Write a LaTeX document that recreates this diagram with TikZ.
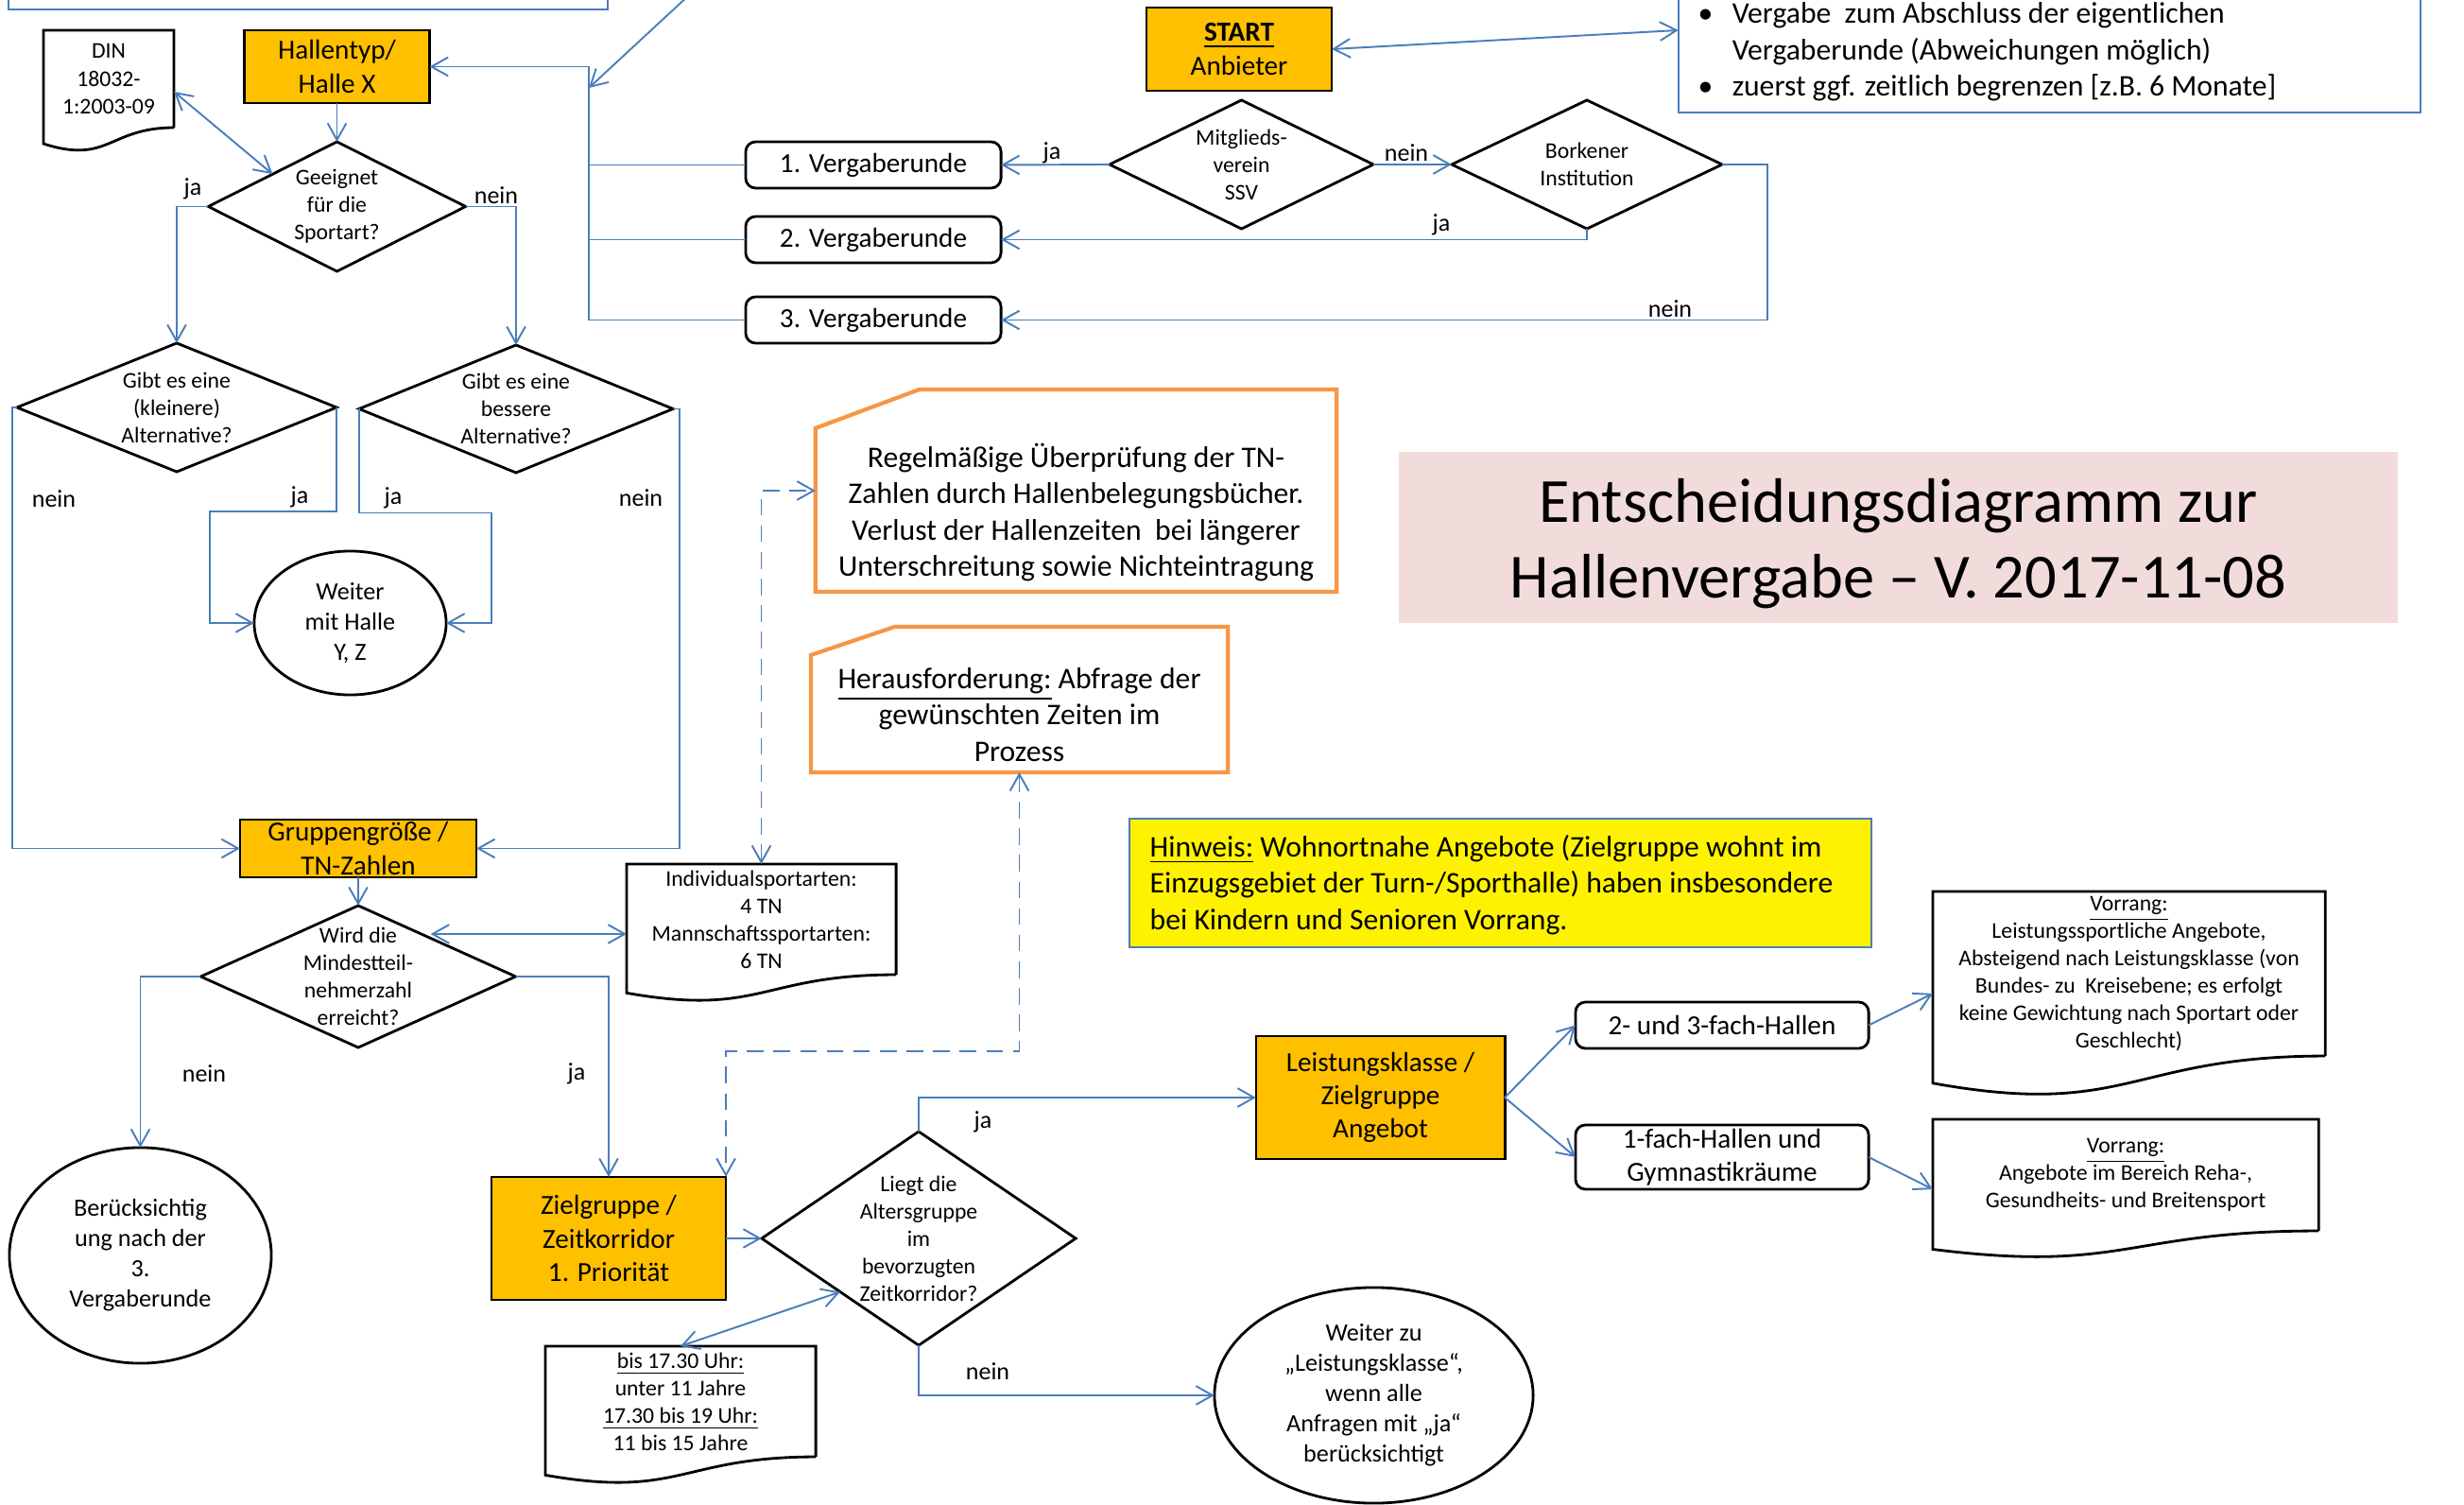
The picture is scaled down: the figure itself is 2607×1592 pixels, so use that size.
\documentclass[tikz,border=0pt]{standalone}
\usepackage{fontspec}
\setmainfont{Carlito}
\usetikzlibrary{arrows.meta,calc,shapes.geometric}

\definecolor{linkblue}{RGB}{74,126,187}
\definecolor{boxorange}{RGB}{255,192,0}
\definecolor{noteorange}{RGB}{247,150,70}
\definecolor{titlerose}{RGB}{242,220,219}

\newcommand*{\tinytxt}{\fontsize{6.75pt}{8.25pt}\selectfont}
\newcommand*{\lbltxt}{\fontsize{7.4pt}{9pt}\selectfont}
\newcommand*{\ovaltxt}{\fontsize{7.45pt}{9.1pt}\selectfont}
\newcommand*{\boxtxt}{\fontsize{8.3pt}{10pt}\selectfont}
\newcommand*{\bigtxt}{\fontsize{9pt}{10.9pt}\selectfont}
\newcommand*{\titletxt}{\fontsize{18.9pt}{22.6pt}\selectfont}

\begin{document}
\begin{tikzpicture}[x=0.01cm, y=-0.01cm,
	linkline/.style={draw=linkblue, line width=0.55pt},
	conn/.style={linkline, -{Straight Barb[length=5pt,width=5.6pt]}},
	biconn/.style={linkline, {Straight Barb[length=5pt,width=5.6pt]}-{Straight Barb[length=5pt,width=5.6pt]}},
	dashconn/.style={biconn, dash pattern=on 5pt off 3pt},
	boxline/.style={draw=black, line width=0.8pt},
	frame/.style={rectangle, inner sep=0pt, outer sep=0pt, align=center},
	fillbox/.style={frame, boxline, fill=boxorange, font=\boxtxt},
	roundbox/.style={frame, boxline, rounded corners=3pt, font=\boxtxt},
	oval/.style={ellipse, boxline, inner sep=0pt, outer sep=0pt, align=center, font=\ovaltxt},
	lbl/.style={inner sep=0pt, font=\lbltxt}]

	\useasboundingbox (0,0) rectangle (2607,1592);
	\clip (0,0) rectangle (2607,1592);

	\newcommand*{\diamframe}[1]{%
	\draw[boxline] (#1.north) -- (#1.east) -- (#1.south) -- (#1.west) -- cycle;
	}
	\newcommand*{\docframe}[1]{%
	\draw[boxline] (#1.south east) -- (#1.north east) -- (#1.north west)
		-- ($(#1.south west)!-0.165!(#1.north west)$)
		.. controls ($(#1.south)!-0.381!(#1.north)$) and (#1.south) .. (#1.south east);
	}
	\newcommand*{\snipframe}[3]{%
	\draw[draw=noteorange, line width=1.2pt] ($(#1.north west)+(#2,0)$) -- (#1.north east)
		-- (#1.south east) -- (#1.south west) -- ($(#1.north west)+(0,#3)$) -- cycle;
	}

	% top row
	\node[frame, draw=linkblue, line width=0.6pt, minimum width=6.34cm, minimum height=0.5cm] (topnote) at (326,-15) {};
	\node[fillbox, minimum width=1.96cm, minimum height=0.77cm] (hallentyp) at (356.5,70.5) {Hallentyp/\\Halle X};
	\node[frame, minimum width=1.38cm, minimum height=1.03cm, font=\tinytxt] (din) at (115,83.5) {DIN\\18032-\\1:2003-09};
	\docframe{din}
	\node[fillbox, minimum width=1.96cm, minimum height=0.88cm] (start) at (1311,52) {\textbf{\underline{START}}\\Anbieter};
	\node[frame, draw=linkblue, line width=0.6pt, minimum width=7.85cm, minimum height=1.49cm] (bulletbox) at (2168.5,44.5) {};
	\node[anchor=base west, inner sep=0pt, font=\bigtxt] (bullettext) at (1796,25) {%
		\begin{tabular}[t]{@{}p{0.36cm}@{}l@{}}
		\textbullet & Vergabe\ \ zum Abschluss der eigentlichen\\
		 & Vergaberunde (Abweichungen möglich)\\
		\textbullet & zuerst ggf. zeitlich begrenzen [z.B. 6 Monate]
		\end{tabular}};

	% Vergaberunden
	\foreach \i/\y in {1/174.5, 2/253.5, 3/338.5}
		\node[roundbox, minimum width=2.7cm, minimum height=0.49cm] (vergabe\i) at (924,\y) {\i. Vergaberunde};
	\node[frame, minimum width=2.79cm, minimum height=1.36cm, font=\tinytxt] (mitglied) at (1313.5,174) {Mitglieds-\\verein\\SSV};
	\diamframe{mitglied}
	\node[frame, minimum width=2.86cm, minimum height=1.36cm, font=\tinytxt] (borkener) at (1679,174) {Borkener\\Institution};
	\diamframe{borkener}

	\coordinate (bus) at (623,70.5);
	\coordinate (busin) at (623,93);
	\coordinate (offtop) at (757,-31);
	\draw[linkline] (vergabe1.west) -- (vergabe1.west -| bus);
	\draw[linkline] (vergabe2.west) -- (vergabe2.west -| bus);
	\draw[conn] (vergabe3.west) -| (bus) -- (hallentyp.east);
	\draw[conn] (offtop) -- (busin);
	\draw[biconn] (start.east) -- ($(bulletbox.west)+(0,-12.5)$);

	\draw[conn] (mitglied.west) -- (vergabe1.east);
	\draw[conn] (mitglied.east) -- (borkener.west);
	\draw[conn] (borkener.south) |- (vergabe2.east);
	\draw[conn] (borkener.east) -- (1870,174) |- (vergabe3.east);
	\node[lbl] (l1) at (1113,162) {ja};
	\node[lbl] (l2) at (1488,162) {nein};
	\node[lbl] (l3) at (1525,238) {ja};
	\node[lbl] (l4) at (1767,327) {nein};

	% Halle
	\node[frame, minimum width=2.72cm, minimum height=1.37cm, font=\tinytxt] (geeignet) at (356.5,218.5) {Geeignet\\für die\\Sportart?};
	\diamframe{geeignet}
	\node[frame, minimum width=3.38cm, minimum height=1.36cm, font=\tinytxt] (kleiner) at (187,431) {Gibt es eine\\(kleinere)\\Alternative?};
	\diamframe{kleiner}
	\node[frame, minimum width=3.32cm, minimum height=1.35cm, font=\tinytxt] (besser) at (546,432.5) {Gibt es eine\\bessere\\Alternative?};
	\diamframe{besser}
	\node[oval, minimum width=2.03cm, minimum height=1.52cm] (weiterhalle) at (370.5,659) {Weiter\\mit Halle\\Y, Z};
	\node[fillbox, minimum width=2.5cm, minimum height=0.61cm] (gruppe) at (379,897.5) {Gruppengröße /\\TN-Zahlen};

	\draw[conn] (hallentyp.south) -- (geeignet.north);
	\draw[biconn] ($(din.east)+(0,13.5)$) -- ($(geeignet.west)!0.5!(geeignet.north)$);
	\draw[conn] (geeignet.west) -| (kleiner.north);
	\draw[conn] (geeignet.east) -| (besser.north);
	\draw[conn] (kleiner.east) -- ++(0,110) -- ++(-134,0) |- (weiterhalle.west);
	\draw[conn] (besser.west) -- ++(0,110) -- ++(140,0) |- (weiterhalle.east);
	\draw[conn] (kleiner.west) -- ++(-5,0) |- (gruppe.west);
	\draw[conn] (besser.east) -- ++(7,0) |- (gruppe.east);
	\node[lbl] (l5) at (204,200) {ja};
	\node[lbl] (l6) at (525,207) {nein};
	\node[lbl] (l7) at (57,528) {nein};
	\node[lbl] (l8) at (317,526) {ja};
	\node[lbl] (l9) at (416,527) {ja};
	\node[lbl] (l10) at (678,527) {nein};

	% Gruppe und Zielgruppe
	\node[frame, minimum width=3.33cm, minimum height=1.5cm, font=\tinytxt] (wirddie) at (379,1033) {Wird die\\Mindestteil-\\nehmerzahl\\erreicht?};
	\diamframe{wirddie}
	\node[frame, minimum width=2.85cm, minimum height=1.17cm, font=\tinytxt] (individual) at (805.5,972.5) {Individualsportarten:\\4 TN\\Mannschaftssportarten:\\6 TN};
	\docframe{individual}
	\node[oval, minimum width=2.77cm, minimum height=2.28cm] (berueck) at (148.5,1328) {Berücksichtig\\ung nach der\\3.\\Vergaberunde};
	\node[fillbox, minimum width=2.48cm, minimum height=1.3cm] (zielgruppe) at (644,1310) {Zielgruppe /\\Zeitkorridor\\1. Priorität};
	\node[frame, minimum width=3.32cm, minimum height=2.26cm, font=\tinytxt] (liegt) at (972,1310) {Liegt die\\Altersgruppe\\im\\bevorzugten\\Zeitkorridor?};
	\diamframe{liegt}
	\node[frame, minimum width=2.86cm, minimum height=1.17cm, font=\tinytxt] (zeitdoc) at (720,1482.5) {\underline{bis 17.30 Uhr:}\\unter 11 Jahre\\\underline{17.30 bis 19 Uhr:}\\11 bis 15 Jahre};
	\docframe{zeitdoc}
	\node[oval, minimum width=3.37cm, minimum height=2.28cm] (weiterzu) at (1453.5,1476) {Weiter zu\\„Leistungsklasse“,\\wenn alle\\Anfragen mit „ja“\\berücksichtigt};

	\coordinate (wdtip) at ($(wirddie.north)!0.4!(wirddie.east)+(10,0)$);
	\draw[conn] (gruppe.south) -- (wirddie.north);
	\draw[biconn] (wdtip) -- (wdtip -| individual.west);
	\draw[conn] (wirddie.west) -| (berueck.north);
	\draw[conn] (wirddie.east) -| (zielgruppe.north);
	\draw[conn] (zielgruppe.east) -- (liegt.west);
	\draw[biconn] (zeitdoc.north) -- ($(liegt.west)!0.5!(liegt.south)$);
	\node[lbl] (l11) at (216,1136) {nein};
	\node[lbl] (l12) at (610,1136) {ja};

	% Hinweise
	\node[frame, minimum width=5.51cm, minimum height=2.14cm] (regel) at (1138.5,519) {};
	\snipframe{regel}{110}{41}
	\node[inner sep=0pt, align=center, font=\bigtxt] (regeltext) at (1138.5,542) {Regelmäßige Überprüfung der TN-\\Zahlen durch Hallenbelegungsbücher.\\Verlust der Hallenzeiten\ \ bei längerer\\Unterschreitung sowie Nichteintragung};
	\node[frame, minimum width=4.41cm, minimum height=1.54cm] (heraus) at (1078.5,740) {};
	\snipframe{heraus}{89}{30}
	\node[inner sep=0pt, align=center, font=\bigtxt] (heraustext) at (1078.5,756) {\underline{Herausforderung:} Abfrage der\\gewünschten Zeiten im\\Prozess};
	\draw[dashconn] (individual.north) |- (regel.west);
	\draw[dashconn] (heraus.south) -- ++(0,295) -| (zielgruppe.north east);

	\node[frame, fill=titlerose, minimum width=10.57cm, minimum height=1.81cm] (title) at (2008.5,568.5) {};
	\node[inner sep=0pt, align=center, font=\titletxt] (titletext) at (2008.5,575) {Entscheidungsdiagramm zur\\Hallenvergabe – V. 2017-11-08};
	\node[frame, draw=linkblue, line width=0.6pt, fill=yellow, minimum width=7.85cm, minimum height=1.36cm] (hinweis) at (1587.5,934) {};
	\node[inner sep=0pt, anchor=west, align=left, font=\bigtxt] (hinweistext) at (1216,936) {\underline{Hinweis:} Wohnortnahe Angebote (Zielgruppe wohnt im\\Einzugsgebiet der Turn-/Sporthalle) haben insbesondere\\bei Kindern und Senioren Vorrang.};

	% Leistungsklasse
	\node[fillbox, minimum width=2.63cm, minimum height=1.3cm] (leistung) at (1460.5,1161) {Leistungsklasse /\\Zielgruppe\\Angebot};
	\node[roundbox, minimum width=3.1cm, minimum height=0.49cm] (hallen23) at (1822,1084.5) {2- und 3-fach-Hallen};
	\node[roundbox, minimum width=3.1cm, minimum height=0.68cm] (hallen1) at (1822,1224) {1-fach-Hallen und\\Gymnastikräume};
	\node[frame, minimum width=4.15cm, minimum height=1.74cm, font=\tinytxt] (vorrang1) at (2252.5,1030) {\underline{Vorrang:}\\Leistungssportliche Angebote,\\Absteigend nach Leistungsklasse (von\\Bundes- zu\ \ Kreisebene; es erfolgt\\keine Gewichtung nach Sportart oder\\Geschlecht)};
	\docframe{vorrang1}
	\node[frame, minimum width=4.08cm, minimum height=1.18cm, font=\tinytxt] (vorrang2) at (2249,1243) {\underline{Vorrang:}\\Angebote im Bereich Reha-,\\Gesundheits- und Breitensport};
	\docframe{vorrang2}

	\draw[conn] (liegt.north) |- (leistung.west);
	\draw[conn] (liegt.south) |- (weiterzu.west);
	\draw[conn] (leistung.east) -- (hallen23.west);
	\draw[conn] (leistung.east) -- (hallen1.west);
	\draw[conn] (hallen23.east) -- ($(vorrang1.west)+(0,21)$);
	\draw[conn] (hallen1.east) -- ($(vorrang2.west)+(0,15)$);
	\node[lbl] (l13) at (1040,1187) {ja};
	\node[lbl] (l14) at (1045,1451) {nein};
\end{tikzpicture}
\end{document}
